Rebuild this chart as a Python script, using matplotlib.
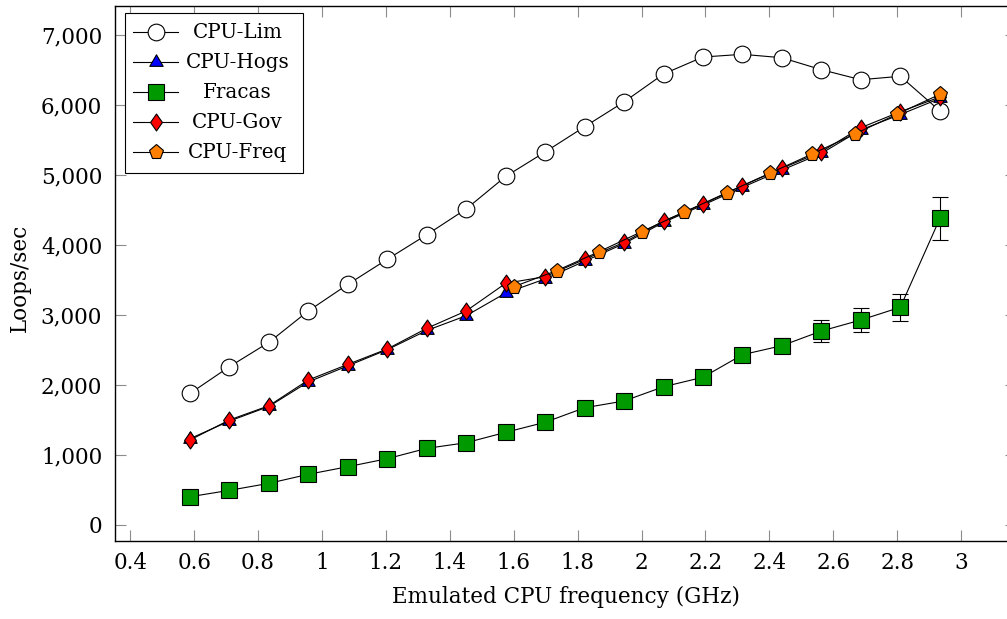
import matplotlib
matplotlib.use('Agg')
import matplotlib.pyplot as plt
from matplotlib.path import Path
from matplotlib.lines import Line2D
from matplotlib.patches import Rectangle

# ---------------- data ----------------
freq = [0.587, 0.710, 0.834, 0.957, 1.081, 1.204, 1.328, 1.451, 1.575, 1.698,
        1.822, 1.945, 2.069, 2.192, 2.316, 2.439, 2.563, 2.686, 2.810, 2.934]
freq_cpufreq = [1.600, 1.734, 1.867, 2.000, 2.134, 2.267, 2.401, 2.534, 2.667, 2.801, 2.934]

cpu_lim = [1876, 2257, 2606, 3053, 3434, 3791, 4143, 4510, 4976, 5324,
           5686, 6039, 6439, 6681, 6720, 6671, 6500, 6357, 6406, 5910]
cpu_hogs = [1230, 1480, 1690, 2040, 2270, 2500, 2775, 2985, 3310, 3510,
            3765, 4015, 4320, 4565, 4820, 5065, 5305, 5640, 5860, 6090]
fracas = [400, 491, 591, 720, 829, 943, 1091, 1171, 1320, 1463,
          1671, 1767, 1971, 2106, 2429, 2557, 2767, 2924, 3106, 4377]
fracas_err = [10, 10, 12, 15, 15, 20, 20, 25, 25, 30,
              30, 35, 40, 45, 50, 110, 155, 170, 190, 305]
cpu_gov = [1210, 1496, 1700, 2067, 2291, 2510, 2806, 3053, 3449, 3543,
           3791, 4034, 4338, 4581, 4843, 5091, 5329, 5671, 5900, 6110]
cpu_freq = [3400, 3629, 3900, 4186, 4467, 4743, 5020, 5296, 5581, 5867, 6149]

series_names = ['CPU-Lim', 'CPU-Hogs', 'Fracas', 'CPU-Gov', 'CPU-Freq']
x_ticks = [0.4, 0.6, 0.8, 1.0, 1.2, 1.4, 1.6, 1.8, 2.0, 2.2, 2.4, 2.6, 2.8, 3.0]
x_tick_labels = ['0.4', '0.6', '0.8', '1', '1.2', '1.4', '1.6', '1.8', '2',
                 '2.2', '2.4', '2.6', '2.8', '3']
y_ticks = [0, 1000, 2000, 3000, 4000, 5000, 6000, 7000]
y_tick_labels = ['0', '1,000', '2,000', '3,000', '4,000', '5,000', '6,000', '7,000']
x_label = 'Emulated CPU frequency (GHz)'
y_label = 'Loops/sec'

# ---------------- style ----------------
plt.rcParams['font.family'] = ['DejaVu Serif']
FS = 15.5
FS_LEG = 14.3
W, H = 1007, 619

tri = Path([(0, 1), (-0.866, -0.5), (0.866, -0.5), (0, 1)],
           [Path.MOVETO, Path.LINETO, Path.LINETO, Path.CLOSEPOLY])
dia = Path([(0, 1), (0.7, 0), (0, -1), (-0.7, 0), (0, 1)],
           [Path.MOVETO, Path.LINETO, Path.LINETO, Path.LINETO, Path.CLOSEPOLY])

styles = {
    'CPU-Lim': dict(marker='o', ms=12.0, mfc='white'),
    'CPU-Hogs': dict(marker=tri, ms=11.1, mfc='#0000ff'),
    'Fracas': dict(marker='s', ms=11.4, mfc='#009900'),
    'CPU-Gov': dict(marker=dia, ms=12.2, mfc='#ff0000'),
    'CPU-Freq': dict(marker='p', ms=10.9, mfc='#ff8000'),
}
common = dict(color='black', lw=0.8, mec='black', mew=0.8)

fig = plt.figure(figsize=(W / 100, H / 100), dpi=100)
ax_l, ax_r, ax_t, ax_b = 115.3, 1016.0, 6.0, 541.3
ax = fig.add_axes([ax_l / W, 1 - ax_b / H, (ax_r - ax_l) / W, (ax_b - ax_t) / H])

ax.plot(freq, cpu_lim, zorder=3, **common, **styles['CPU-Lim'])
ax.plot(freq, cpu_hogs, zorder=4, **common, **styles['CPU-Hogs'])
ax.errorbar(freq, fracas, yerr=fracas_err, ecolor='black', elinewidth=0.8,
            capsize=5.8, capthick=0.8, zorder=5, **common, **styles['Fracas'])
ax.plot(freq, cpu_gov, zorder=6, **common, **styles['CPU-Gov'])
ax.plot(freq_cpufreq, cpu_freq, zorder=7, **common, **styles['CPU-Freq'])

ax.set_xlim(0.353, 3.172)
ax.set_ylim(-237, 7410)
ax.set_xticks(x_ticks)
ax.set_xticklabels(x_tick_labels)
ax.set_yticks(y_ticks)
ax.set_yticklabels(y_tick_labels)
ax.tick_params(axis='both', which='both', direction='in', length=7.9, width=0.8,
               color='#8c8c8c', labelsize=FS, top=True, right=True)
ax.tick_params(axis='y', pad=9.4)
ax.tick_params(axis='x', pad=8.0)
for s in ax.spines.values():
    s.set_linewidth(1.0)
    s.set_color('black')

ax.set_xlabel(x_label, fontsize=FS)
ax.xaxis.set_label_coords(0.5, (ax_b - 597) / (ax_b - ax_t))
ax.xaxis.label.set_verticalalignment('center')
ax.set_ylabel(y_label, fontsize=FS)
ax.yaxis.set_label_coords((20 - ax_l) / (ax_r - ax_l), (ax_b - 278) / (ax_b - ax_t))
ax.yaxis.label.set_verticalalignment('center')

# ---------------- legend (pgfplots style, centred text) ----------------
def fx(px):
    return px / W

def fy(py):
    return 1 - py / H

lx0, lx1, ly0, ly1 = 125.0, 302.7, 12.7, 172.7
fig.add_artist(Rectangle((fx(lx0), fy(ly1)), fx(lx1) - fx(lx0), fy(ly0) - fy(ly1),
                         transform=fig.transFigure, facecolor='white',
                         edgecolor='black', lw=0.8, zorder=10))
row_y = [32.3, 62.3, 92.3, 122.3, 152.3]
for name, ry in zip(series_names, row_y):
    fig.add_artist(Line2D([fx(133), fx(178)], [fy(ry), fy(ry)],
                          transform=fig.transFigure, zorder=11, **common))
    fig.add_artist(Line2D([fx(155.5)], [fy(ry)], transform=fig.transFigure,
                          zorder=12, ls='none', color='black', mec='black', mew=0.8,
                          **styles[name]))
    fig.text(fx(237.5), fy(ry), name, ha='center', va='center', fontsize=FS_LEG, zorder=12)

fig.savefig('out.png', dpi=100)
